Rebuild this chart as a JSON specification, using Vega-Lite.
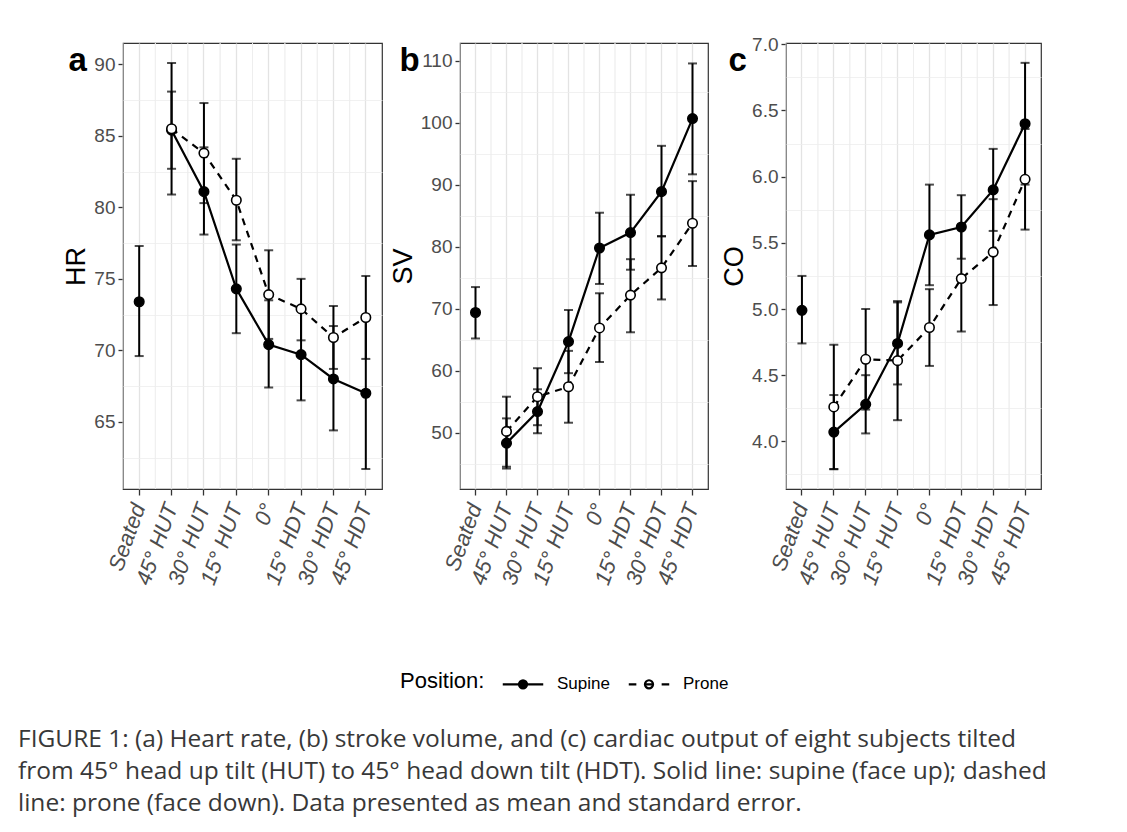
{
  "$schema": "https://vega.github.io/schema/vega-lite/v6.json",
  "background": "white",
  "padding": {"left": 18, "top": 34, "right": 5, "bottom": 5},
  "datasets": {
    "d": [
      {"m": "HR", "t": "Seated", "p": "Supine", "v": 73.4, "lo": 69.6, "hi": 77.3},
      {"m": "HR", "t": "45° HUT", "p": "Supine", "v": 85.4, "lo": 80.9, "hi": 90.1},
      {"m": "HR", "t": "30° HUT", "p": "Supine", "v": 81.1, "lo": 78.1, "hi": 84.2},
      {"m": "HR", "t": "15° HUT", "p": "Supine", "v": 74.3, "lo": 71.2, "hi": 77.4},
      {"m": "HR", "t": "0°", "p": "Supine", "v": 70.4, "lo": 67.4, "hi": 73.5},
      {"m": "HR", "t": "15° HDT", "p": "Supine", "v": 69.7, "lo": 66.5, "hi": 72.8},
      {"m": "HR", "t": "30° HDT", "p": "Supine", "v": 68.0, "lo": 64.4, "hi": 71.7},
      {"m": "HR", "t": "45° HDT", "p": "Supine", "v": 67.0, "lo": 61.7, "hi": 72.3},
      {"m": "HR", "t": "45° HUT", "p": "Prone", "v": 85.5, "lo": 82.7, "hi": 88.1},
      {"m": "HR", "t": "30° HUT", "p": "Prone", "v": 83.8, "lo": 80.3, "hi": 87.3},
      {"m": "HR", "t": "15° HUT", "p": "Prone", "v": 80.5, "lo": 77.7, "hi": 83.4},
      {"m": "HR", "t": "0°", "p": "Prone", "v": 73.9, "lo": 70.8, "hi": 77.0},
      {"m": "HR", "t": "15° HDT", "p": "Prone", "v": 72.9, "lo": 70.7, "hi": 75.0},
      {"m": "HR", "t": "30° HDT", "p": "Prone", "v": 70.9, "lo": 68.7, "hi": 73.1},
      {"m": "HR", "t": "45° HDT", "p": "Prone", "v": 72.3, "lo": 69.4, "hi": 75.2},
      {"m": "SV", "t": "Seated", "p": "Supine", "v": 69.4, "lo": 65.2, "hi": 73.5},
      {"m": "SV", "t": "45° HUT", "p": "Supine", "v": 48.3, "lo": 44.2, "hi": 52.3},
      {"m": "SV", "t": "30° HUT", "p": "Supine", "v": 53.4, "lo": 49.9, "hi": 57.0},
      {"m": "SV", "t": "15° HUT", "p": "Supine", "v": 64.7, "lo": 59.6, "hi": 69.8},
      {"m": "SV", "t": "0°", "p": "Supine", "v": 79.8, "lo": 74.0, "hi": 85.5},
      {"m": "SV", "t": "15° HDT", "p": "Supine", "v": 82.3, "lo": 76.3, "hi": 88.4},
      {"m": "SV", "t": "30° HDT", "p": "Supine", "v": 88.9, "lo": 81.7, "hi": 96.3},
      {"m": "SV", "t": "45° HDT", "p": "Supine", "v": 100.7, "lo": 91.7, "hi": 109.6},
      {"m": "SV", "t": "45° HUT", "p": "Prone", "v": 50.2, "lo": 44.5, "hi": 55.8},
      {"m": "SV", "t": "30° HUT", "p": "Prone", "v": 55.8, "lo": 51.2, "hi": 60.4},
      {"m": "SV", "t": "15° HUT", "p": "Prone", "v": 57.4, "lo": 51.6, "hi": 63.2},
      {"m": "SV", "t": "0°", "p": "Prone", "v": 66.9, "lo": 61.4, "hi": 72.5},
      {"m": "SV", "t": "15° HDT", "p": "Prone", "v": 72.2, "lo": 66.2, "hi": 78.0},
      {"m": "SV", "t": "30° HDT", "p": "Prone", "v": 76.6, "lo": 71.5, "hi": 81.7},
      {"m": "SV", "t": "45° HDT", "p": "Prone", "v": 83.8, "lo": 76.9, "hi": 90.6},
      {"m": "CO", "t": "Seated", "p": "Supine", "v": 4.99, "lo": 4.74, "hi": 5.25},
      {"m": "CO", "t": "45° HUT", "p": "Supine", "v": 4.07, "lo": 3.79, "hi": 4.35},
      {"m": "CO", "t": "30° HUT", "p": "Supine", "v": 4.28, "lo": 4.06, "hi": 4.50},
      {"m": "CO", "t": "15° HUT", "p": "Supine", "v": 4.74, "lo": 4.43, "hi": 5.06},
      {"m": "CO", "t": "0°", "p": "Supine", "v": 5.56, "lo": 5.18, "hi": 5.94},
      {"m": "CO", "t": "15° HDT", "p": "Supine", "v": 5.62, "lo": 5.38, "hi": 5.86},
      {"m": "CO", "t": "30° HDT", "p": "Supine", "v": 5.90, "lo": 5.59, "hi": 6.21},
      {"m": "CO", "t": "45° HDT", "p": "Supine", "v": 6.40, "lo": 5.94, "hi": 6.86},
      {"m": "CO", "t": "45° HUT", "p": "Prone", "v": 4.26, "lo": 3.79, "hi": 4.73},
      {"m": "CO", "t": "30° HUT", "p": "Prone", "v": 4.62, "lo": 4.24, "hi": 5.00},
      {"m": "CO", "t": "15° HUT", "p": "Prone", "v": 4.61, "lo": 4.16, "hi": 5.05},
      {"m": "CO", "t": "0°", "p": "Prone", "v": 4.86, "lo": 4.57, "hi": 5.15},
      {"m": "CO", "t": "15° HDT", "p": "Prone", "v": 5.23, "lo": 4.83, "hi": 5.62},
      {"m": "CO", "t": "30° HDT", "p": "Prone", "v": 5.43, "lo": 5.03, "hi": 5.83},
      {"m": "CO", "t": "45° HDT", "p": "Prone", "v": 5.98, "lo": 5.60, "hi": 6.36}
    ]
  },
  "data": {"name": "d"},
  "title": {
    "text": [
      "FIGURE 1: (a) Heart rate, (b) stroke volume, and (c) cardiac output of eight subjects tilted",
      "from 45° head up tilt (HUT) to 45° head down tilt (HDT). Solid line: supine (face up); dashed",
      "line: prone (face down). Data presented as mean and standard error."
    ],
    "orient": "bottom",
    "anchor": "start",
    "frame": "group",
    "font": "Open Sans",
    "fontSize": 24.5,
    "fontWeight": "normal",
    "color": "#383838",
    "lineHeight": 32,
    "offset": 35,
    "dx": -105
  },
  "bounds": "flush",
  "spacing": 78,
  "hconcat": [
    {
      "width": 259, "height": 446,
      "transform": [{"filter": "datum.m === 'HR'"}],
      "resolve": {"axis": {"y": "independent"}},
      "encoding": {
        "x": {"field": "t", "type": "ordinal", "sort": ["Seated", "45° HUT", "30° HUT", "15° HUT", "0°", "15° HDT", "30° HDT", "45° HDT"], "scale": {"type": "band", "paddingInner": 0, "paddingOuter": 0}, "axis": {"title": null, "bandPosition": 0.5, "labelAngle": -70, "labelAlign": "right", "labelBaseline": "middle", "labelFontStyle": "italic", "labelFontSize": 22, "labelColor": "#4D4D4D", "labelPadding": 9, "labelOverlap": false, "tickColor": "#333333", "tickSize": 6, "tickWidth": 1.3, "grid": true, "gridColor": "#E3E3E3", "gridWidth": 1.3, "domain": false}}
      },
      "layer": [
        {"mark": {"type": "rule", "color": "#EEEEEE", "strokeWidth": 0.8}, "encoding": {"x": {"field": "t", "type": "ordinal", "sort": ["Seated", "45° HUT", "30° HUT", "15° HUT", "0°", "15° HDT", "30° HDT", "45° HDT"], "bandPosition": 0}}},
        {"mark": {"type": "point", "size": 0, "opacity": 0},
         "encoding": {"y": {"field": "v", "type": "quantitative",
           "axis": {"orient": "left", "values": [62.5, 67.5, 72.5, 77.5, 82.5, 87.5], "labels": false, "ticks": false, "domain": false, "grid": true, "gridColor": "#EEEEEE", "gridWidth": 0.8,
             "title": "a", "titleAngle": 0, "titleX": -55, "titleY": 27, "titleAlign": "left", "titleBaseline": "alphabetic", "titleFontSize": 33, "titleFontWeight": "bold", "titleColor": "black", "titleFont": "Liberation Sans"}}}},
        {"mark": {"type": "errorbar", "color": "black", "ticks": {"size": 9, "thickness": 2}, "rule": {"strokeWidth": 2}},
         "encoding": {"y": {"field": "lo", "type": "quantitative", "scale": {"domain": [60.3, 91.5], "nice": false, "zero": false},
           "axis": {"orient": "left", "title": "HR", "titleFontSize": 27, "titleFontWeight": "normal", "titleColor": "black", "titleFont": "Liberation Sans", "titlePadding": 3,
             "values": [65, 70, 75, 80, 85, 90], "labelFontSize": 19, "labelColor": "#4D4D4D", "labelPadding": 3,
             "tickColor": "#333333", "tickSize": 5, "tickWidth": 1.3, "gridWidth": 1.3, "gridColor": "#E3E3E3", "domain": false}},
           "y2": {"field": "hi"}}},
        {"transform": [{"filter": "datum.t !== 'Seated' && datum.p === 'Supine'"}], "mark": {"type": "line", "color": "black", "strokeWidth": 2.2},
         "encoding": {"y": {"field": "v", "type": "quantitative", "axis": null}}},
        {"transform": [{"filter": "datum.p === 'Prone'"}], "mark": {"type": "line", "color": "black", "strokeWidth": 2.2, "strokeDash": [7, 6]},
         "encoding": {"y": {"field": "v", "type": "quantitative", "axis": null}}},
        {"transform": [{"filter": "datum.p === 'Supine'"}], "mark": {"type": "point", "filled": true, "size": 90, "fill": "black", "stroke": "black", "strokeWidth": 1.6, "opacity": 1},
         "encoding": {"y": {"field": "v", "type": "quantitative", "axis": null}}},
        {"transform": [{"filter": "datum.p === 'Prone'"}], "mark": {"type": "point", "filled": true, "size": 90, "fill": "white", "stroke": "black", "strokeWidth": 1.6, "opacity": 1},
         "encoding": {"y": {"field": "v", "type": "quantitative", "axis": null}}}
      ]
    },
    {
      "width": 248, "height": 446,
      "transform": [{"filter": "datum.m === 'SV'"}],
      "resolve": {"axis": {"y": "independent"}},
      "encoding": {
        "x": {"field": "t", "type": "ordinal", "sort": ["Seated", "45° HUT", "30° HUT", "15° HUT", "0°", "15° HDT", "30° HDT", "45° HDT"], "scale": {"type": "band", "paddingInner": 0, "paddingOuter": 0}, "axis": {"title": null, "bandPosition": 0.5, "labelAngle": -70, "labelAlign": "right", "labelBaseline": "middle", "labelFontStyle": "italic", "labelFontSize": 22, "labelColor": "#4D4D4D", "labelPadding": 9, "labelOverlap": false, "tickColor": "#333333", "tickSize": 6, "tickWidth": 1.3, "grid": true, "gridColor": "#E3E3E3", "gridWidth": 1.3, "domain": false}}
      },
      "layer": [
        {"mark": {"type": "rule", "color": "#EEEEEE", "strokeWidth": 0.8}, "encoding": {"x": {"field": "t", "type": "ordinal", "sort": ["Seated", "45° HUT", "30° HUT", "15° HUT", "0°", "15° HDT", "30° HDT", "45° HDT"], "bandPosition": 0}}},
        {"mark": {"type": "point", "filled": true, "size": 0, "strokeWidth": 2.2},
         "encoding": {"y": {"field": "v", "type": "quantitative",
           "axis": {"orient": "left", "values": [45, 55, 65, 75, 85, 95, 105], "labels": false, "ticks": false, "domain": false, "grid": true, "gridColor": "#EEEEEE", "gridWidth": 0.8,
             "title": "b", "titleAngle": 0, "titleX": -61, "titleY": 27, "titleAlign": "left", "titleBaseline": "alphabetic", "titleFontSize": 33, "titleFontWeight": "bold", "titleColor": "black", "titleFont": "Liberation Sans"}},
           "shape": {"field": "p", "type": "nominal", "scale": {"domain": ["Supine", "Prone"], "range": ["M-1.6,0H1.6M0.32,0A0.32,0.32 0 1 1 -0.32,0A0.32,0.32 0 1 1 0.32,0", "M-1.6,0H-1.0M-0.32,0H0.32M1.0,0H1.6M0.32,0A0.32,0.32 0 1 1 -0.32,0A0.32,0.32 0 1 1 0.32,0"]},
             "legend": {"title": "Position:", "orient": "none", "legendX": 277, "legendY": 627, "direction": "horizontal", "titleOrient": "left", "titleFontSize": 22, "titleFontWeight": "normal", "titleColor": "black", "titleFont": "Liberation Sans", "titlePadding": 24, "titleBaseline": "middle",
               "labelFontSize": 17, "labelFont": "Liberation Sans", "labelColor": "black", "labelOffset": 20, "columnPadding": 14, "symbolSize": 640, "symbolOpacity": 1, "symbolStrokeColor": "black", "symbolStrokeWidth": 2.2}},
           "fill": {"field": "p", "type": "nominal", "scale": {"domain": ["Supine", "Prone"], "range": ["black", "white"]}},
           "stroke": {"field": "p", "type": "nominal", "scale": {"domain": ["Supine", "Prone"], "range": ["black", "black"]}}}},
        {"mark": {"type": "errorbar", "color": "black", "ticks": {"size": 9, "thickness": 2}, "rule": {"strokeWidth": 2}},
         "encoding": {"y": {"field": "lo", "type": "quantitative", "scale": {"domain": [40.9, 112.9], "nice": false, "zero": false},
           "axis": {"orient": "left", "title": "SV", "titleFontSize": 27, "titleFontWeight": "normal", "titleColor": "black", "titleFont": "Liberation Sans", "titlePadding": 3,
             "values": [50, 60, 70, 80, 90, 100, 110], "labelFontSize": 19, "labelColor": "#4D4D4D", "labelPadding": 3,
             "tickColor": "#333333", "tickSize": 5, "tickWidth": 1.3, "gridWidth": 1.3, "gridColor": "#E3E3E3", "domain": false}},
           "y2": {"field": "hi"}}},
        {"transform": [{"filter": "datum.t !== 'Seated' && datum.p === 'Supine'"}], "mark": {"type": "line", "color": "black", "strokeWidth": 2.2},
         "encoding": {"y": {"field": "v", "type": "quantitative", "axis": null}}},
        {"transform": [{"filter": "datum.p === 'Prone'"}], "mark": {"type": "line", "color": "black", "strokeWidth": 2.2, "strokeDash": [7, 6]},
         "encoding": {"y": {"field": "v", "type": "quantitative", "axis": null}}},
        {"transform": [{"filter": "datum.p === 'Supine'"}], "mark": {"type": "point", "filled": true, "size": 90, "fill": "black", "stroke": "black", "strokeWidth": 1.6, "opacity": 1},
         "encoding": {"y": {"field": "v", "type": "quantitative", "axis": null}}},
        {"transform": [{"filter": "datum.p === 'Prone'"}], "mark": {"type": "point", "filled": true, "size": 90, "fill": "white", "stroke": "black", "strokeWidth": 1.6, "opacity": 1},
         "encoding": {"y": {"field": "v", "type": "quantitative", "axis": null}}}
      ]
    },
    {
      "width": 255, "height": 446,
      "transform": [{"filter": "datum.m === 'CO'"}],
      "resolve": {"axis": {"y": "independent"}},
      "encoding": {
        "x": {"field": "t", "type": "ordinal", "sort": ["Seated", "45° HUT", "30° HUT", "15° HUT", "0°", "15° HDT", "30° HDT", "45° HDT"], "scale": {"type": "band", "paddingInner": 0, "paddingOuter": 0}, "axis": {"title": null, "bandPosition": 0.5, "labelAngle": -70, "labelAlign": "right", "labelBaseline": "middle", "labelFontStyle": "italic", "labelFontSize": 22, "labelColor": "#4D4D4D", "labelPadding": 9, "labelOverlap": false, "tickColor": "#333333", "tickSize": 6, "tickWidth": 1.3, "grid": true, "gridColor": "#E3E3E3", "gridWidth": 1.3, "domain": false}}
      },
      "layer": [
        {"mark": {"type": "rule", "color": "#EEEEEE", "strokeWidth": 0.8}, "encoding": {"x": {"field": "t", "type": "ordinal", "sort": ["Seated", "45° HUT", "30° HUT", "15° HUT", "0°", "15° HDT", "30° HDT", "45° HDT"], "bandPosition": 0}}},
        {"mark": {"type": "point", "size": 0, "opacity": 0},
         "encoding": {"y": {"field": "v", "type": "quantitative",
           "axis": {"orient": "left", "values": [3.75, 4.25, 4.75, 5.25, 5.75, 6.25, 6.75], "labels": false, "ticks": false, "domain": false, "grid": true, "gridColor": "#EEEEEE", "gridWidth": 0.8,
             "title": "c", "titleAngle": 0, "titleX": -58, "titleY": 27, "titleAlign": "left", "titleBaseline": "alphabetic", "titleFontSize": 33, "titleFontWeight": "bold", "titleColor": "black", "titleFont": "Liberation Sans"}}}},
        {"mark": {"type": "errorbar", "color": "black", "ticks": {"size": 9, "thickness": 2}, "rule": {"strokeWidth": 2}},
         "encoding": {"y": {"field": "lo", "type": "quantitative", "scale": {"domain": [3.64, 7.01], "nice": false, "zero": false},
           "axis": {"orient": "left", "title": "CO", "titleFontSize": 27, "titleFontWeight": "normal", "titleColor": "black", "titleFont": "Liberation Sans", "titlePadding": 3,
             "values": [4, 4.5, 5, 5.5, 6, 6.5, 7], "format": ".1f", "labelFontSize": 19, "labelColor": "#4D4D4D", "labelPadding": 3,
             "tickColor": "#333333", "tickSize": 5, "tickWidth": 1.3, "gridWidth": 1.3, "gridColor": "#E3E3E3", "domain": false}},
           "y2": {"field": "hi"}}},
        {"transform": [{"filter": "datum.t !== 'Seated' && datum.p === 'Supine'"}], "mark": {"type": "line", "color": "black", "strokeWidth": 2.2},
         "encoding": {"y": {"field": "v", "type": "quantitative", "axis": null}}},
        {"transform": [{"filter": "datum.p === 'Prone'"}], "mark": {"type": "line", "color": "black", "strokeWidth": 2.2, "strokeDash": [7, 6]},
         "encoding": {"y": {"field": "v", "type": "quantitative", "axis": null}}},
        {"transform": [{"filter": "datum.p === 'Supine'"}], "mark": {"type": "point", "filled": true, "size": 90, "fill": "black", "stroke": "black", "strokeWidth": 1.6, "opacity": 1},
         "encoding": {"y": {"field": "v", "type": "quantitative", "axis": null}}},
        {"transform": [{"filter": "datum.p === 'Prone'"}], "mark": {"type": "point", "filled": true, "size": 90, "fill": "white", "stroke": "black", "strokeWidth": 1.6, "opacity": 1},
         "encoding": {"y": {"field": "v", "type": "quantitative", "axis": null}}}
      ]
    }
  ],
  "config": {
    "font": "Liberation Sans",
    "view": {"stroke": "#333333", "strokeWidth": 1.2},
    "axis": {"labelFont": "Liberation Sans"}
  }
}
